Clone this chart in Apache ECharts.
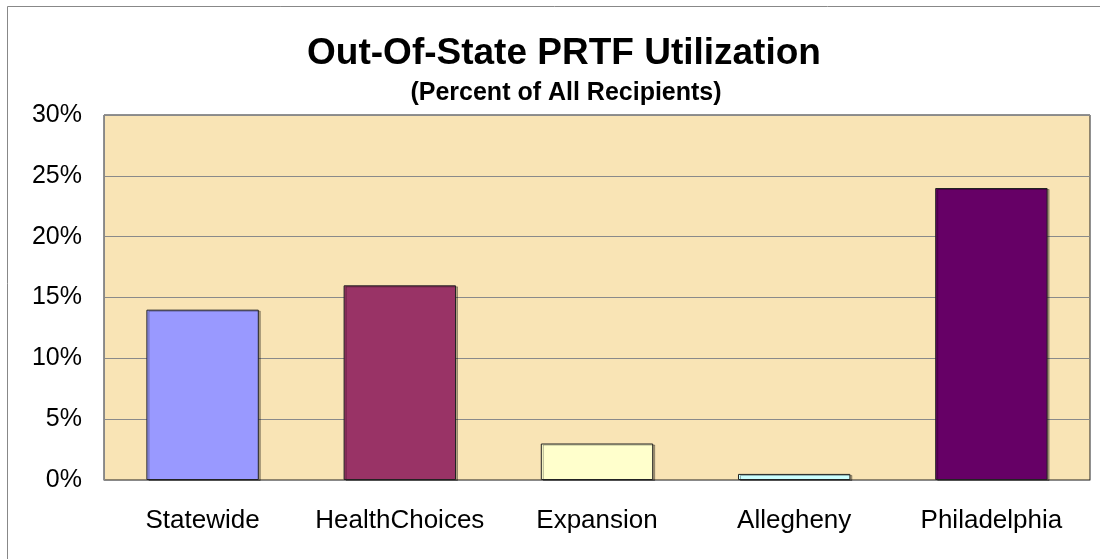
<!DOCTYPE html>
<html>
<head>
<meta charset="utf-8">
<script src="https://cdn.jsdelivr.net/npm/echarts@6/dist/echarts.min.js"></script>
<style>
  html, body { margin: 0; padding: 0; background: #fff; }
  #chart { width: 1100px; height: 559px; }
</style>
</head>
<body>
<div id="chart"></div>
<script>
// chart data
var categories = ['Statewide', 'HealthChoices', 'Expansion', 'Allegheny', 'Philadelphia'];
var values = [14, 16, 3, 0.5, 24];
var barColors = ['#9999FF', '#993366', '#FFFFCC', '#CCFFFF', '#660066'];
var yTicks = [0, 5, 10, 15, 20, 25, 30];

var font = 'Liberation Sans, Arial, sans-serif';
var chart = echarts.init(document.getElementById('chart'));

var option = {
    backgroundColor: '#fff',
    animation: false,
    title: [{
        text: 'Out-Of-State PRTF Utilization',
        left: 559,
        top: 30,
        textAlign: 'center',
        textStyle: { fontFamily: font, fontSize: 37, fontWeight: 'bold', color: '#000' }
    }, {
        text: '(Percent of All Recipients)',
        left: 561,
        top: 76,
        textAlign: 'center',
        textStyle: { fontFamily: font, fontSize: 25, fontWeight: 'bold', color: '#000' }
    }],
    graphic: [{
        // outer chart-area frame (right/bottom edges fall outside the picture)
        type: 'rect',
        shape: { x: 7.5, y: 6.5, width: 1200, height: 700 },
        style: { fill: 'none', stroke: '#888', lineWidth: 1 },
        silent: true
    }],
    grid: {
        left: 104,
        right: 10,
        top: 115,
        bottom: 79,
        show: true,
        backgroundColor: '#F9E4B5',
        borderColor: '#222',
        borderWidth: 1
    },
    xAxis: {
        type: 'category',
        data: categories,
        axisLine: { lineStyle: { color: '#888', width: 1 } },
        axisTick: { show: false },
        axisLabel: { fontFamily: font, fontSize: 26, color: '#000', margin: 28, interval: 0 }
    },
    yAxis: {
        type: 'value',
        min: yTicks[0],
        max: yTicks[yTicks.length - 1],
        interval: 5,
        axisLine: { show: true, lineStyle: { color: '#888', width: 1 } },
        axisTick: { show: false },
        splitLine: { lineStyle: { color: '#8a8a8a', width: 1 } },
        axisLabel: {
            fontFamily: font, fontSize: 25, color: '#000', margin: 22,
            formatter: '{value}%'
        }
    },
    series: [{
        type: 'bar',
        barWidth: '57%',
        data: values.map(function (v, i) {
            return { value: v, itemStyle: { color: barColors[i] } };
        }),
        itemStyle: {
            borderColor: '#222',
            borderWidth: 1,
            shadowColor: 'rgba(0,0,0,0.3)',
            shadowOffsetX: 2,
            shadowOffsetY: 1,
            shadowBlur: 0
        }
    }]
};
chart.setOption(option);
</script>
</body>
</html>
